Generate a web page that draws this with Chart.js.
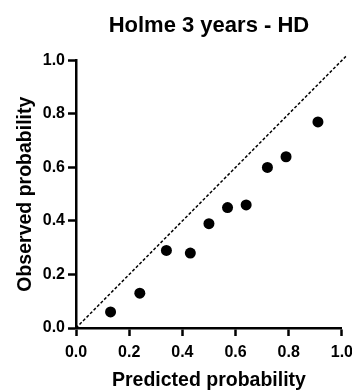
<!DOCTYPE html>
<html>
<head>
<meta charset="utf-8">
<script src="https://cdn.jsdelivr.net/npm/chart.js@4/dist/chart.umd.min.js"></script>
<style>
  html, body { margin: 0; padding: 0; background: #fff; overflow: hidden; }
  canvas { display: block; }
</style>
</head>
<body>
<canvas id="calib" width="360" height="391"></canvas>
<script>
// calibration points: predicted vs observed
const predicted = [0.13, 0.24, 0.34, 0.43, 0.50, 0.57, 0.64, 0.72, 0.79, 0.91];
const observed  = [0.06, 0.13, 0.29, 0.28, 0.39, 0.45, 0.46, 0.60, 0.64, 0.77];
// line of perfect agreement
const identity = [0, 1.015];
const tickValues = [0, 0.2, 0.4, 0.6, 0.8, 1.0];

const font = "'Liberation Sans', Arial, Helvetica, sans-serif";

const axis = (label, pad, titlePad) => ({
    type: "linear",
    min: 0,
    max: 1,
    afterBuildTicks: s => { s.ticks = tickValues.map(v => ({ value: v })); },
    ticks: {
        color: "#000",
        padding: pad,
        font: { family: font, size: 16, weight: "bold" },
        callback: v => v.toFixed(1)
    },
    grid: {
        drawOnChartArea: false,
        tickLength: 8,
        tickColor: "#000",
        tickWidth: 2.5
    },
    border: { color: "#000", width: 2.5 },
    title: {
        display: true,
        text: label,
        color: "#000",
        font: { family: font, size: 19.5, weight: "bold" },
        padding: titlePad
    }
});

const xAxis = axis("Predicted probability", 7, { top: 12, bottom: -1 });
xAxis.afterFit = s => { s.height = 63; };
const yAxis = axis("Observed probability", 3, { top: 14, bottom: 0 });
yAxis.afterFit = s => { s.width = 76; };

const config = {
    type: "scatter",
    data: {
        datasets: [
            {
                label: "reference",
                data: identity.map(v => ({ x: v, y: v })),
                showLine: true,
                borderColor: "#000",
                borderWidth: 1.5,
                borderDash: [3, 2],
                pointRadius: 0,
                clip: false
            },
            {
                label: "observed",
                data: predicted.map((p, i) => ({ x: p, y: observed[i] })),
                backgroundColor: "#000",
                borderWidth: 0,
                pointRadius: 5.5
            }
        ]
    },
    options: {
        responsive: false,
        animation: false,
        layout: { padding: { left: 0, right: 16, top: 0, bottom: 0 } },
        scales: { x: xAxis, y: yAxis },
        plugins: {
            legend: { display: false },
            tooltip: { enabled: false },
            title: {
                display: true,
                fullSize: false,
                text: "Holme 3 years - HD",
                color: "#000",
                font: { family: font, size: 22, weight: "bold" },
                padding: { top: 13, bottom: 21 }
            }
        }
    }
};

const ctx = document.getElementById("calib").getContext("2d");
const chart = new Chart(ctx, config);
</script>
</body>
</html>
